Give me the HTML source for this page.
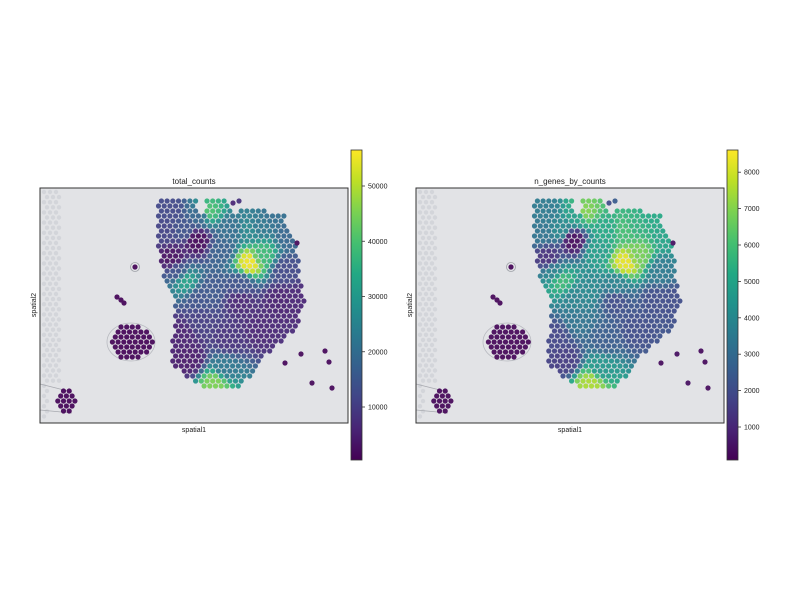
<!DOCTYPE html>
<html><head><meta charset="utf-8"><style>
html,body{margin:0;padding:0;background:#fff}
svg{display:block;font-family:"Liberation Sans","DejaVu Sans",sans-serif}
</style></head><body>
<svg id="fig" width="792" height="612" viewBox="0 0 792 612" xmlns="http://www.w3.org/2000/svg">
<defs>
<linearGradient id="vir" x1="0" y1="1" x2="0" y2="0">
<stop offset="0" stop-color="#440154"/><stop offset="0.1" stop-color="#482475"/><stop offset="0.2" stop-color="#414487"/><stop offset="0.3" stop-color="#355f8d"/><stop offset="0.4" stop-color="#2a788e"/><stop offset="0.5" stop-color="#21918c"/><stop offset="0.6" stop-color="#22a884"/><stop offset="0.7" stop-color="#44bf70"/><stop offset="0.8" stop-color="#7ad151"/><stop offset="0.9" stop-color="#bddf26"/><stop offset="1" stop-color="#fde725"/>
</linearGradient>
</defs>
<g id="panels"></g>
</svg>
<script>
// anchor measurements (in left-panel image coordinates) with observed values
const anchorX = [170,200,230,260,290,172,250,262,208,185,200,240,280,260,190,200,230,215,225,180,250,285,300,197,165,178,222,275,185,240,212];
const anchorY = [210,215,230,225,235,258,262,255,211,280,300,300,300,330,360,320,340,383,368,335,230,270,300,240,232,272,250,215,230,285,290];
const totalCounts = [12000,18000,20000,22000,18000,2500,55000,38000,40000,32000,14000,6000,5000,6000,4000,10000,8000,45000,22000,5000,26000,12000,6000,1000,11000,14000,17000,20000,14000,14000,15000];
const nGenes = [3500,4800,5200,5500,5000,1200,8300,6800,7000,5800,3800,2000,2000,2000,1500,3300,2500,7500,4500,1800,6000,3500,2000,300,3300,3800,4800,5200,4000,3800,4000];
const totalTicks = [10000,20000,30000,40000,50000];
const genesTicks = [1000,2000,3000,4000,5000,6000,7000,8000];
// isolated spots
const loneX = [135,117,121,124,301,325,329,312,332,285,297,239,233];
const loneY = [267,297,300,303,354,351,362,383,388,363,243,201,203];
const loneTotal = [800,900,900,900,1500,1200,1200,1500,1200,1200,1500,8000,6000];
const loneGenes = [150,200,200,200,400,300,300,400,300,300,400,2500,2000];

const NS='http://www.w3.org/2000/svg';
const root=document.getElementById('panels');
const vs=['#440154','#482475','#414487','#355f8d','#2a788e','#21918c','#22a884','#44bf70','#7ad151','#bddf26','#fde725'];
function hx(c){return [parseInt(c.substr(1,2),16),parseInt(c.substr(3,2),16),parseInt(c.substr(5,2),16)];}
function viridis(t){t=Math.max(0,Math.min(1,t));const f=t*10,i=Math.min(9,Math.floor(f)),u=f-i;const a=hx(vs[i]),b=hx(vs[i+1]);return 'rgb('+a.map((v,k)=>Math.round(v+(b[k]-v)*u)).join(',')+')';}
function el(tag,attrs,parent){const e=document.createElementNS(NS,tag);for(const k in attrs)e.setAttribute(k,attrs[k]);(parent||root).appendChild(e);return e;}
function idw(x,y,vals){let s=0,w=0;for(let i=0;i<anchorX.length;i++){const d2=(x-anchorX[i])**2+(y-anchorY[i])**2+4;const ww=1/Math.pow(d2,2.2);s+=ww*vals[i];w+=ww;}return s/w;}
// tissue outline (row y -> segments)
const outline=[[203,[[158,197],[205,228]]],[210,[[157,200],[203,232],[240,268]]],[218,[[157,285]]],[228,[[157,288]]],[245,[[158,297]]],[262,[[160,300]]],[278,[[163,300]]],[302,[[173,305]]],[328,[[175,297]]],[345,[[172,278]]],[362,[[170,260]]],[375,[[183,253]]],[387,[[202,240]]]];
function segsAt(y){if(y<200||y>389)return[];let r=outline[0];for(const o of outline){if(o[0]<=y+2)r=o;}
 const i=outline.indexOf(r);const n=outline[i+1];
 if(n&&r[1].length===1&&n[1].length===1){const u=(y-r[0])/(n[0]-r[0]);return[[r[1][0][0]+(n[1][0][0]-r[1][0][0])*u,r[1][0][1]+(n[1][0][1]-r[1][0][1])*u]];}
 return r[1];}
const spots=[];
const dx=5.7,dy=5;
for(let row=0;;row++){const y=201+row*dy;if(y>390)break;const off=(row%2)*dx/2;
 for(const s of segsAt(y)){for(let x=150+off;x<=310;x+=dx){if(x>=s[0]&&x<=s[1])spots.push({x,y,t:idw(x,y,totalCounts),g:idw(x,y,nGenes)});}}}
function cluster(cx,cy,rx,ry,tv,gv){for(let row=-6;row<=6;row++){const y=cy+row*dy;const off=(Math.abs(row)%2)*dx/2;for(let x=cx-30+off;x<=cx+30;x+=dx){if(((x-cx)/rx)**2+((y-cy)/ry)**2<=1)spots.push({x,y,t:tv,g:gv});}}}
cluster(131,342,22,17,900,200);
cluster(65,401,11,12,900,200);
for(let i=0;i<loneX.length;i++)spots.push({x:loneX[i],y:loneY[i],t:loneTotal[i],g:loneGenes[i]});

function panel(ox,title,key,vmin,vmax,ticks,tickY,name){
 const g=el('g',{});
 
 
 const bg=el('rect',{x:40+ox,y:188,width:308,height:235,fill:'#e2e3e6'},g);
 
 
 for(let r=0;r<46;r++){for(let c=0;c<3;c++){const x=44+ox+c*6+(r%2)*3,y=192+r*5.1;if(y>420)continue;if(y>382&&c>0)continue;el('circle',{cx:x,cy:y,r:2.2,fill:'#d3d5da'},g);}}
 el('path',{d:`M${40+ox} 384 L${72+ox} 392 M${40+ox} 410 L${72+ox} 413`,stroke:'#a8aab0','stroke-width':0.8,fill:'none'},g);
 el('circle',{cx:135+ox,cy:267,r:4.5,fill:'none',stroke:'#9fa2a8','stroke-width':0.8},g);
 el('ellipse',{cx:131+ox,cy:342,rx:24,ry:19,fill:'none',stroke:'#b8bac0','stroke-width':0.8},g);
 const sg=el('g',{opacity:0.92},g);
 
 
 for(const s of spots){const v=s[key];const c=el('circle',{cx:(s.x+ox).toFixed(1),cy:s.y.toFixed(1),r:2.6,fill:viridis((v-vmin)/(vmax-vmin))},sg);
  
  }
 const fr=el('rect',{x:40+ox,y:188,width:308,height:235,fill:'none',stroke:'#333','stroke-width':1},g);
 
 
 const t=el('text',{x:194+ox,y:184,'font-size':8,'text-anchor':'middle',fill:'#222'},g);t.textContent=title;
 
 
 const xl=el('text',{x:194+ox,y:432,'font-size':7,'text-anchor':'middle',fill:'#222'},g);xl.textContent='spatial1';
 
 
 const yl=el('text',{x:36+ox,y:305,'font-size':7,'text-anchor':'middle',fill:'#222',transform:`rotate(-90 ${36+ox} 305)`},g);yl.textContent='spatial2';
 
 
 const cbx=ox===0?351:727;
 const cb=el('rect',{x:cbx,y:150,width:11,height:310,fill:'url(#vir)',stroke:'#333','stroke-width':0.8},g);
 
 
 for(const tv of ticks){const y=tickY(tv);el('line',{x1:cbx+11,x2:cbx+14,y1:y,y2:y,stroke:'#333','stroke-width':0.8},g);
  const tl=el('text',{x:cbx+17,y:y+2.5,'font-size':7,fill:'#222'},g);tl.textContent=tv;
  
  }
}
panel(0,'total_counts','t',400,56300,totalTicks,v=>407-(v-10000)*0.005525,'total-counts-panel');
panel(376,'n_genes_by_counts','g',90,8600,genesTicks,v=>427-(v-1000)*0.0364,'n-genes-panel');
</script>
</body></html>
